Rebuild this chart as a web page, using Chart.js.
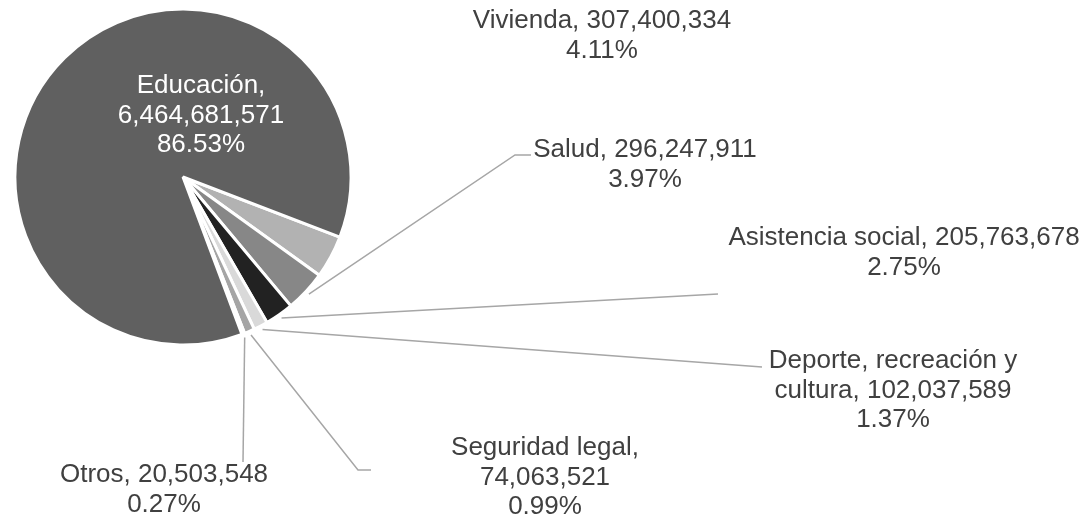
<!DOCTYPE html>
<html>
<head>
<meta charset="utf-8">
<script src="https://cdn.jsdelivr.net/npm/chart.js@4.4.1/dist/chart.umd.min.js"></script>
<style>
  html, body { margin: 0; padding: 0; background: #fff; }
  #wrap { width: 1088px; height: 519px; }
</style>
</head>
<body>
<div id="wrap"><canvas id="gastoChart" width="1088" height="519"></canvas></div>
<script>
// data, clockwise from the first small slice
const categories = ["Vivienda", "Salud", "Asistencia social", "Deporte, recreación y cultura", "Seguridad legal", "Otros", "Educación"];
const amounts = [307400334, 296247911, 205763678, 102037589, 74063521, 20503548, 6464681571];

const sliceColors = ["#b2b2b2", "#878787", "#222222", "#d9d9d9", "#a5a5a5", "#c4c4c4", "#606060"];

// where each label sits (centre x, first baseline) and its leader line bends
const labelLayout = [
    { x: 602, y: 28, maxWidth: 420 },
    { x: 645, y: 157, maxWidth: 420, leader: [[515, 155], [531, 155]] },
    { x: 904, y: 245, maxWidth: 420, leader: [[718, 294]] },
    { x: 893, y: 368, maxWidth: 270, leader: [[762, 367]] },
    { x: 545, y: 455, maxWidth: 200, leader: [[358, 470], [371, 470]] },
    { x: 164, y: 482, maxWidth: 420, leader: [[243, 462]] },
    { x: 201, y: 93, maxWidth: 172, color: "#ffffff" }
];

const total = amounts.reduce((a, b) => a + b, 0);

function wrapWords(ctx, text, maxWidth) {
    const words = text.split(" ");
    const lines = [];
    let line = "";
    words.forEach(w => {
        const test = line ? line + " " + w : w;
        if (line && ctx.measureText(test).width > maxWidth) {
            lines.push(line);
            line = w;
        } else {
            line = test;
        }
    });
    if (line) lines.push(line);
    return lines;
}

const pieLabels = {
    id: "pieLabels",
    afterDatasetsDraw(chart) {
        const ctx = chart.ctx;
        const meta = chart.getDatasetMeta(0);
        ctx.save();
        ctx.font = "26px 'Liberation Sans', Arial, sans-serif";
        ctx.textAlign = "center";
        ctx.textBaseline = "alphabetic";

        meta.data.forEach((arc, i) => {
            const p = arc.getProps(["x", "y", "startAngle", "endAngle", "outerRadius"], true);
            const lay = labelLayout[i];

            if (lay.leader) {
                const mid = (p.startAngle + p.endAngle) / 2;
                const r = p.outerRadius + 4;
                ctx.beginPath();
                ctx.moveTo(p.x + Math.cos(mid) * r, p.y + Math.sin(mid) * r);
                lay.leader.forEach(pt => ctx.lineTo(pt[0], pt[1]));
                ctx.strokeStyle = "#a6a6a6";
                ctx.lineWidth = 1.5;
                ctx.stroke();
            }

            const head = categories[i] + ", " + amounts[i].toLocaleString("en-US");
            const pct = (amounts[i] / total * 100).toFixed(2) + "%";
            const lines = wrapWords(ctx, head, lay.maxWidth);
            lines.push(pct);

            ctx.fillStyle = lay.color || "#404040";
            lines.forEach((t, k) => ctx.fillText(t, lay.x, lay.y + k * 29.5));
        });
        ctx.restore();
    }
};

new Chart(document.getElementById("gastoChart"), {
    type: "pie",
    data: {
        labels: categories,
        datasets: [{
            data: amounts,
            backgroundColor: sliceColors,
            borderColor: "#ffffff",
            borderWidth: 3
        }]
    },
    options: {
        responsive: false,
        animation: false,
        events: [],
        rotation: 111,
        radius: 168,
        layout: { padding: { left: 0, top: 0, right: 722, bottom: 165 } },
        plugins: {
            legend: { display: false },
            tooltip: { enabled: false }
        }
    },
    plugins: [pieLabels]
});
</script>
</body>
</html>
